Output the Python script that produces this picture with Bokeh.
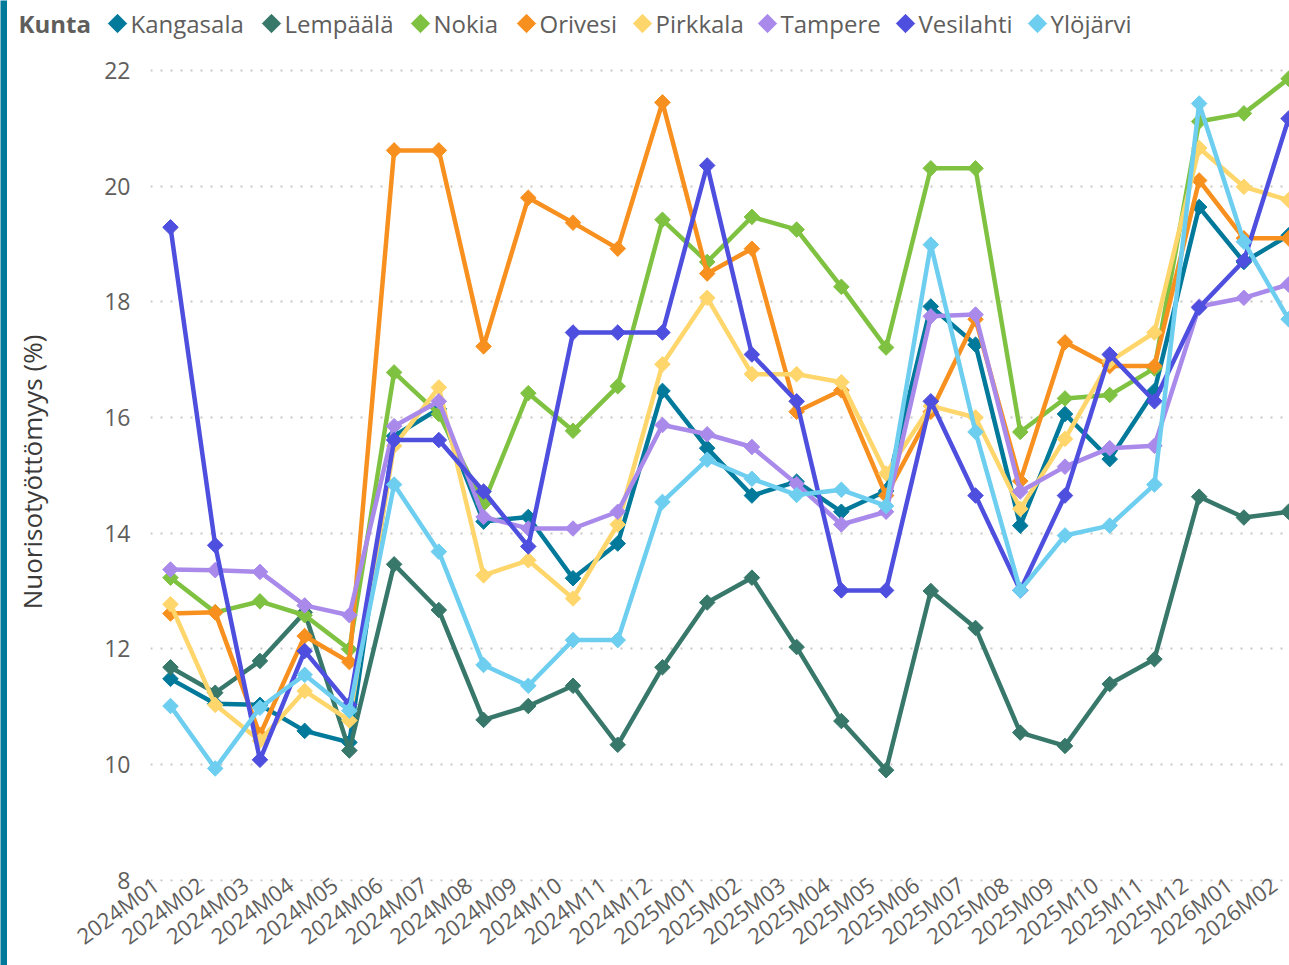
import numpy as np
from bokeh.plotting import figure
from bokeh.models import (Range1d, FixedTicker, CustomJSTickFormatter, ColumnDataSource)
from bokeh.core.properties import value
from bokeh.layouts import row, column
from bokeh.embed import file_html
from bokeh.resources import INLINE

months = ["2024M01", "2024M02", "2024M03", "2024M04", "2024M05", "2024M06",
          "2024M07", "2024M08", "2024M09", "2024M10", "2024M11", "2024M12",
          "2025M01", "2025M02", "2025M03", "2025M04", "2025M05", "2025M06",
          "2025M07", "2025M08", "2025M09", "2025M10", "2025M11", "2025M12",
          "2026M01", "2026M02"]

kangasala = [11.48, 11.05, 11.03, 10.58, 10.38, 15.68, 16.15, 14.20, 14.28, 13.22, 13.82, 16.46,
             15.47, 14.65, 14.89, 14.37, 14.73, 17.92, 17.26, 14.13, 16.06, 15.28, 16.46, 19.64,
             18.69, 19.15]
lempaala = [11.68, 11.24, 11.79, 12.63, 10.24, 13.46, 12.67, 10.77, 11.01, 11.36, 10.34, 11.68,
            12.80, 13.23, 12.03, 10.75, 9.90, 13.00, 12.36, 10.55, 10.32, 11.39, 11.82, 14.63,
            14.27, 14.37]
nokia = [13.23, 12.63, 12.82, 12.58, 11.99, 16.78, 16.06, 14.51, 16.42, 15.77, 16.54, 19.42,
         18.69, 19.47, 19.25, 18.26, 17.21, 20.31, 20.31, 15.75, 16.33, 16.39, 16.85, 21.12,
         21.26, 21.86]
orivesi = [12.61, 12.63, 10.51, 12.22, 11.77, 20.62, 20.62, 17.23, 19.80, 19.37, 18.92, 21.45,
           18.49, 18.92, 16.10, 16.47, 14.65, 16.10, 17.70, 14.90, 17.30, 16.89, 16.89, 20.10,
           19.10, 19.10]
pirkkala = [12.77, 11.03, 10.41, 11.27, 10.76, 15.51, 16.52, 13.27, 13.53, 12.87, 14.15, 16.92,
            18.07, 16.75, 16.75, 16.61, 15.03, 16.20, 16.00, 14.42, 15.63, 16.97, 17.47, 20.66,
            19.99, 19.76]
tampere = [13.37, 13.36, 13.33, 12.75, 12.58, 15.85, 16.28, 14.28, 14.08, 14.08, 14.37, 15.87,
           15.71, 15.49, 14.85, 14.15, 14.37, 17.75, 17.78, 14.72, 15.15, 15.47, 15.51, 17.92,
           18.07, 18.30]
vesilahti = [19.29, 13.79, 10.08, 11.96, 11.03, 15.61, 15.61, 14.72, 13.77, 17.47, 17.47, 17.47,
             20.36, 17.09, 16.28, 13.01, 13.01, 16.28, 14.65, 13.01, 14.65, 17.09, 16.28, 17.90,
             18.71, 21.17]
ylojarvi = [11.01, 9.93, 10.98, 11.55, 10.93, 14.84, 13.68, 11.72, 11.36, 12.15, 12.15, 14.54,
            15.27, 14.94, 14.66, 14.75, 14.47, 18.99, 15.75, 13.01, 13.96, 14.13, 14.84, 21.43,
            19.04, 17.70]

names = ["Kangasala", "Lempäälä", "Nokia", "Orivesi", "Pirkkala", "Tampere", "Vesilahti", "Ylöjärvi"]
series = [kangasala, lempaala, nokia, orivesi, pirkkala, tampere, vesilahti, ylojarvi]
colors = ["#01799B", "#37786A", "#7FC241", "#F7901E", "#FED66B", "#A98AEB", "#4F4FDF", "#6DCEF0"]

y_ticks = [8, 10, 12, 14, 16, 18, 20, 22]
legend_title = "Kunta"
y_title = "Nuorisotyöttömyys (%)"

# ---- layout constants (pixels) ---------------------------------------------
FONT = "Open Sans"
GRAY = "#605E5C"
BAR = "#01799B"
TOTAL_W, TOTAL_H = 1289, 965
BAR_W = 7
LEG_H = 48
W = TOTAL_W - BAR_W
LEG_SWATCH_X = [110, 264, 413, 519, 635, 760, 898, 1030]   # legend swatch centres
LEG_TITLE_X = 11
LEG_Y = 23
LABEL_SHIFT = 0.33   # Power BI style: rotated labels end a little before the point

x_idx = list(range(len(months)))


def frame_free(fig):
    try:
        fig.frame_align = False
    except Exception:
        pass


# ---- left accent bar -------------------------------------------------------
bar = figure(width=BAR_W, height=TOTAL_H, output_backend="svg", toolbar_location=None,
             title=None, x_axis_type=None, y_axis_type=None, min_border=0,
             min_border_left=0, min_border_right=0, min_border_top=0, min_border_bottom=0)
bar.background_fill_color = BAR
bar.border_fill_color = BAR
bar.outline_line_color = None
bar.grid.visible = False
frame_free(bar)

# ---- legend strip ----------------------------------------------------------
lf = figure(width=W, height=LEG_H, output_backend="svg", toolbar_location=None,
            title=None, x_axis_type=None, y_axis_type=None, min_border=0,
            min_border_left=0, min_border_right=0, min_border_top=0, min_border_bottom=0,
            x_range=Range1d(0, W), y_range=Range1d(LEG_H, 0))
lf.outline_line_color = None
lf.grid.visible = False
frame_free(lf)

leg_src = ColumnDataSource(dict(
    x=LEG_SWATCH_X, y=[LEG_Y] * len(names), tx=[v + 13 for v in LEG_SWATCH_X],
    name=names, color=colors))
lf.scatter("x", "y", source=leg_src, marker="square", angle=np.pi / 4, size=13,
           fill_color="color", line_color="color")
lf.text("tx", "y", text="name", source=leg_src, text_font=value(FONT),
        text_font_size="24px", text_color=GRAY, text_baseline="middle", text_align="left")
lf.text(x=[LEG_TITLE_X], y=[LEG_Y], text=[legend_title], text_font=value(FONT),
        text_font_size="24px", text_font_style="bold", text_color=GRAY,
        text_baseline="middle", text_align="left")

# ---- main chart ------------------------------------------------------------
p = figure(width=W, height=TOTAL_H - LEG_H, output_backend="svg", toolbar_location=None,
           title=None,
           x_range=Range1d(-0.447, 25.02), y_range=Range1d(7.975, 22.14),
           min_border_left=143, min_border_right=0, min_border_top=14, min_border_bottom=10)
p.outline_line_color = None
p.background_fill_color = "white"
p.border_fill_color = "white"
frame_free(p)

for name, vals, col in zip(names, series, colors):
    p.line(x_idx, vals, line_color=col, line_width=4.5)
    p.scatter(x_idx, vals, marker="square", angle=np.pi / 4, size=11,
              fill_color=col, line_color=col, line_width=1)

p.xaxis.ticker = FixedTicker(ticks=[i - LABEL_SHIFT for i in x_idx])
p.xaxis.formatter = CustomJSTickFormatter(
    args=dict(labels=months, shift=LABEL_SHIFT),
    code="const i = Math.round(tick + shift); return (i >= 0 && i < labels.length) ? labels[i] : '';")
p.xaxis.major_label_orientation = 0.637
p.xaxis.major_label_text_font = FONT
p.xaxis.major_label_text_font_size = "22px"
p.xaxis.major_label_text_color = GRAY
p.xaxis.major_label_standoff = 0
p.xaxis.axis_line_color = None
p.xaxis.major_tick_line_color = None
p.xaxis.minor_tick_line_color = None
p.xaxis.major_tick_out = 0

p.yaxis.ticker = FixedTicker(ticks=y_ticks)
p.yaxis.major_label_text_font = FONT
p.yaxis.major_label_text_font_size = "23px"
p.yaxis.major_label_text_color = GRAY
p.yaxis.major_label_standoff = 20
p.yaxis.axis_line_color = None
p.yaxis.major_tick_line_color = None
p.yaxis.minor_tick_line_color = None
p.yaxis.major_tick_out = 0
p.yaxis.axis_label = y_title
p.yaxis.axis_label_text_font = FONT
p.yaxis.axis_label_text_font_size = "26px"
p.yaxis.axis_label_text_font_style = "normal"
p.yaxis.axis_label_text_color = "#3B3A39"
p.yaxis.axis_label_standoff = 51

p.xgrid.grid_line_color = None
p.ygrid.ticker = FixedTicker(ticks=y_ticks)
p.ygrid.grid_line_color = "#C8C6C4"
p.ygrid.grid_line_width = 2
p.ygrid.grid_line_dash = "2 8"

layout = row(bar, column(lf, p))
open("out.html", "w").write(file_html(layout, INLINE))
